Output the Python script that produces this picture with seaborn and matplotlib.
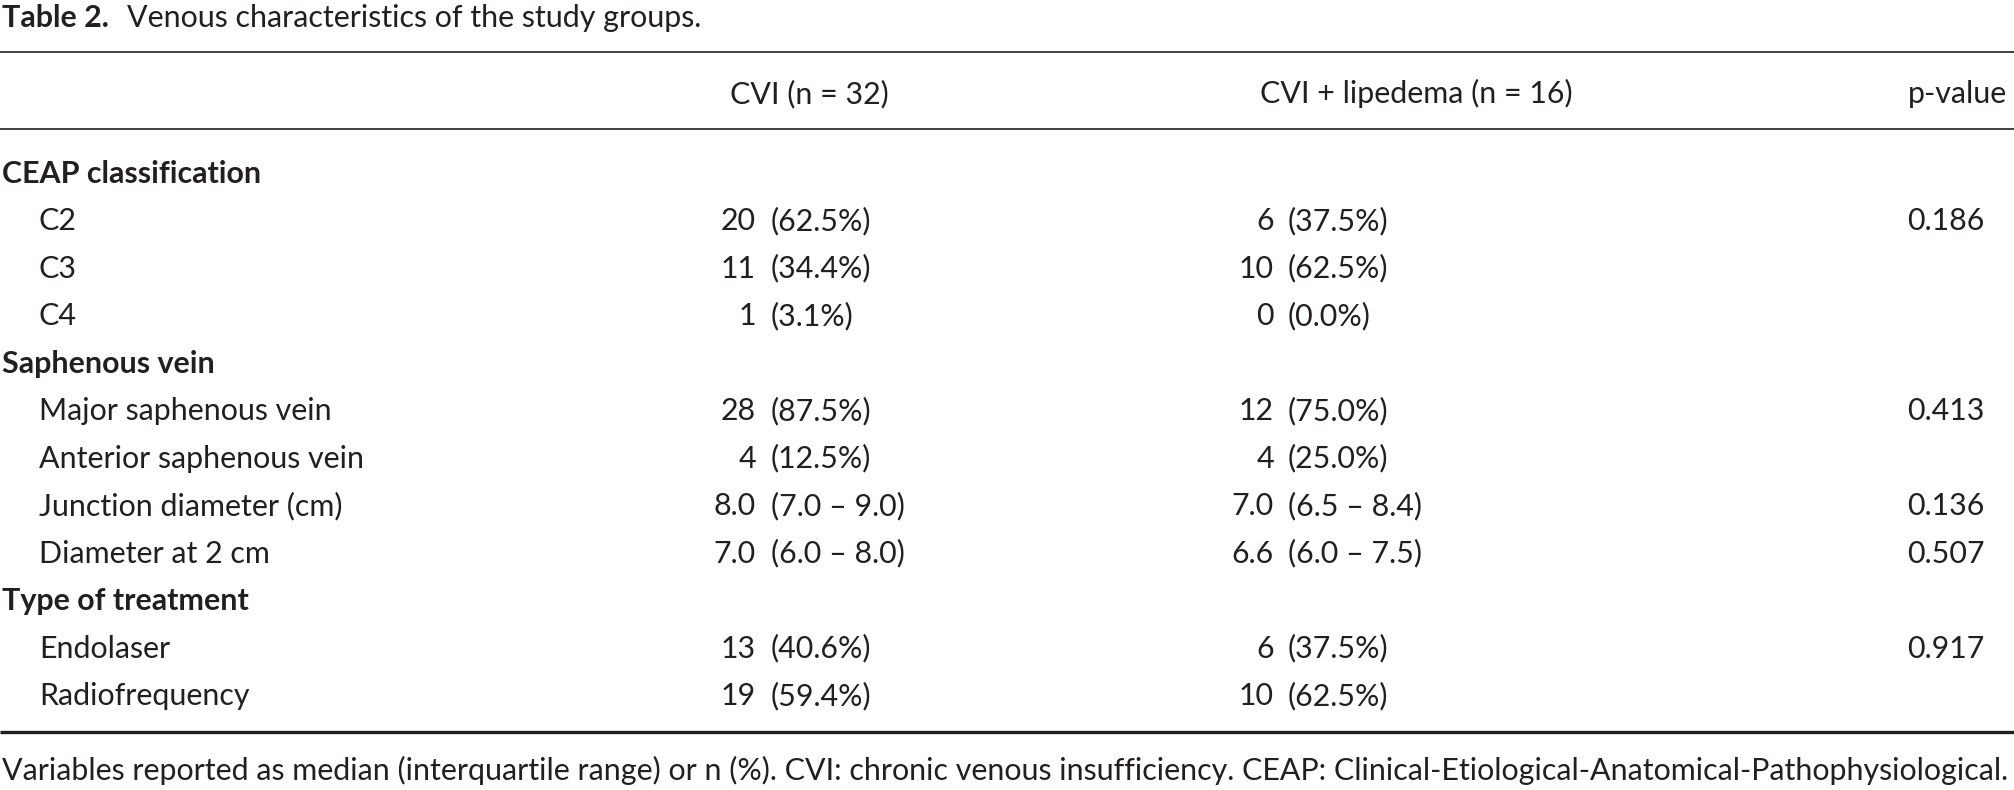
import matplotlib
matplotlib.use("Agg")
import matplotlib.pyplot as plt
import seaborn as sns
import pandas as pd

# ---------------- data ----------------
title_bold = "Table 2."
title_rest = "Venous characteristics of the study groups."
col_headers = ["CVI (n = 32)", "CVI + lipedema (n = 16)", "p-value"]
row_labels = ["CEAP classification", "C2", "C3", "C4",
              "Saphenous vein", "Major saphenous vein", "Anterior saphenous vein",
              "Junction diameter (cm)", "Diameter at 2 cm",
              "Type of treatment", "Endolaser", "Radiofrequency"]
row_is_section = [True, False, False, False, True, False, False, False, False,
                  True, False, False]
cvi_value = ["", "20", "11", "1", "", "28", "4", "8.0", "7.0", "", "13", "19"]
cvi_detail = ["", "(62.5%)", "(34.4%)", "(3.1%)", "", "(87.5%)", "(12.5%)",
              "(7.0 – 9.0)", "(6.0 – 8.0)", "", "(40.6%)", "(59.4%)"]
lip_value = ["", "6", "10", "0", "", "12", "4", "7.0", "6.6", "", "6", "10"]
lip_detail = ["", "(37.5%)", "(62.5%)", "(0.0%)", "", "(75.0%)", "(25.0%)",
              "(6.5 – 8.4)", "(6.0 – 7.5)", "", "(37.5%)", "(62.5%)"]
p_values = ["", "0.186", "", "", "", "0.413", "", "0.136", "0.507", "", "0.917", ""]
footnote = ("Variables reported as median (interquartile range) or n (%). "
            "CVI: chronic venous insufficiency. "
            "CEAP: Clinical-Etiological-Anatomical-Pathophysiological.")

table = pd.DataFrame({
    "label": row_labels, "section": row_is_section,
    "cvi_v": cvi_value, "cvi_d": cvi_detail,
    "lip_v": lip_value, "lip_d": lip_detail, "p": p_values,
})

# ---------------- style ----------------
sns.set_theme(style="white")
plt.rcParams['font.family'] = ['Lato', 'DejaVu Sans']
INK = "#231f20"

W, H = 2014, 790
fig = plt.figure(figsize=(W / 100, H / 100), dpi=100)
fig.patch.set_facecolor("white")
ax = fig.add_axes([0, 0, 1, 1])
ax.set_xlim(0, W)
ax.set_ylim(H, 0)
ax.axis("off")

renderer = fig.canvas.get_renderer()
probe = ax.text(0, 0, footnote, fontsize=20)
fw = probe.get_window_extent(renderer).width
probe.remove()
fs = 20 * 2008 / fw

# title
tb = ax.text(2, 27, title_bold, fontsize=fs, fontweight="bold", color=INK, va="baseline")
bend = tb.get_window_extent(renderer).x1
ax.text(bend + 18, 27, title_rest, fontsize=fs, color=INK, va="baseline")

# rules
ax.hlines([52, 129], 0, W, color=INK, lw=1.2)
ax.hlines([732], 0, W, color=INK, lw=2.4)

# headers
ax.text(809, 103, col_headers[0], fontsize=fs, color=INK, ha="center", va="baseline")
ax.text(1416, 103, col_headers[1], fontsize=fs, color=INK, ha="center", va="baseline")
ax.text(1908, 103, col_headers[2], fontsize=fs, color=INK, ha="left", va="baseline")

# body rows
y0, dy = 183, 47.45
for i, r in table.iterrows():
    y = y0 + dy * i
    if r["section"]:
        ax.text(2, y, r["label"], fontsize=fs, fontweight="bold", color=INK, va="baseline")
    else:
        ax.text(39, y, r["label"], fontsize=fs, color=INK, va="baseline")
    if r["cvi_v"]:
        ax.text(756, y, r["cvi_v"], fontsize=fs, color=INK, ha="right", va="baseline")
        ax.text(771, y, r["cvi_d"], fontsize=fs, color=INK, ha="left", va="baseline")
    if r["lip_v"]:
        ax.text(1274, y, r["lip_v"], fontsize=fs, color=INK, ha="right", va="baseline")
        ax.text(1288, y, r["lip_d"], fontsize=fs, color=INK, ha="left", va="baseline")
    if r["p"]:
        ax.text(1907, y, r["p"], fontsize=fs, color=INK, ha="left", va="baseline")

# footnote
ax.text(2, 780, footnote, fontsize=fs, color=INK, va="baseline")

fig.savefig("out.png", dpi=100, facecolor="white")
